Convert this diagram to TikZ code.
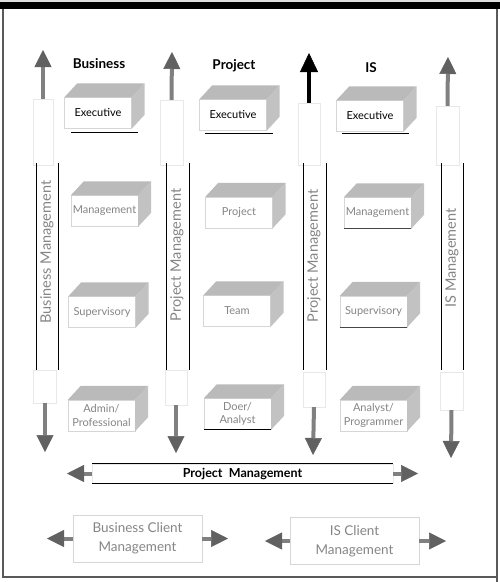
\documentclass[tikz,border=0pt]{standalone}
\usepackage{fontspec}
\setmainfont{Lato}
\usepackage{xcolor}
\usepackage{tikz}
\usetikzlibrary{calc,arrows.meta}
\definecolor{facegray}{gray}{0.73}
\definecolor{sidegray}{gray}{0.76}
\definecolor{rimgray}{gray}{0.84}
\definecolor{palegray}{gray}{0.91}
\definecolor{txtgray}{gray}{0.52}
\definecolor{shaftgray}{gray}{0.5}
\definecolor{headgray}{gray}{0.38}
\definecolor{framegray}{gray}{0.35}

\begin{document}
\begin{tikzpicture}[x=1pt,y=-1pt,
  front/.style={draw=rimgray,fill=white,minimum width=67pt,minimum height=31pt,inner sep=0pt,
    align=center,text=txtgray,font=\fontsize{11}{13.5}\selectfont},
  exec/.style={front,text=black},
  colbox/.style={draw=palegray,fill=white,inner sep=0pt},
  collabel/.style={rotate=90,text=txtgray,font=\fontsize{14.5}{17}\selectfont},
  head/.style={font=\bfseries\fontsize{13.5}{16}\selectfont},
  grayarrow/.style={draw=shaftgray,line width=4pt,
    -{Triangle[width=17pt,length=17pt,line width=0.5pt,color=headgray]}},
  blackarrow/.style={draw=black,line width=4pt,
    -{Triangle[width=18pt,length=19pt,line width=0.5pt,color=black]}},
  clientbox/.style={draw=rimgray,minimum width=129pt,minimum height=47pt,align=center,
    text=txtgray,font=\fontsize{13.5}{19}\selectfont}]
  \useasboundingbox (0,0) rectangle (500,582);
  \fill[gray!25] (0,0) rectangle (500,2);
  \fill[black] (0,2) rectangle (500,9);
  \draw[framegray,line width=1.2pt] (3,9) -- (3,577) -- (497,577);
  \draw[framegray,line width=1.2pt] (497,9) -- (497,582);

  \node[head] (hbus) at (99,64) {Business};
  \node[head] (hproj) at (234,66) {Project};
  \node[head] (his) at (371,68) {IS};

  \node[exec] (bexec) at (98,113) {Executive};
  \node[front] (bmgmt) at (104.5,211) {Management};
  \node[front] (bsup) at (102,312) {Supervisory};
  \node[front] (badmin) at (101.5,415.5) {Admin/\\Professional};
  \node[exec] (pexec) at (233,115) {Executive};
  \node[front] (pproj) at (239,212.5) {Project};
  \node[front] (pteam) at (237,311) {Team};
  \node[front] (pdoer) at (237.5,414) {Doer/\\Analyst};
  \node[exec] (iexec) at (370,116) {Executive};
  \node[front] (imgmt) at (377.5,213) {Management};
  \node[front] (isup) at (373.5,311.5) {Supervisory};
  \node[front] (ianal) at (373.5,415.5) {Analyst/\\Programmer};
  \foreach \b in {bexec,bmgmt,bsup,badmin,pexec,pproj,pteam,pdoer,iexec,imgmt,isup,ianal}{
    \fill[facegray] (\b.north west) -- ++(13,-14) -- ($(\b.north east)+(13,-14)$) -- (\b.north east) -- cycle;
    \fill[sidegray] (\b.north east) -- ++(13,-14) -- ($(\b.south east)+(13,-14)$) -- (\b.south east) -- cycle;
  }
  \draw[line width=0.8pt] ($(bexec.south west)+(7,4)$) -- ($(bexec.south east)+(6,4)$);
  \draw[line width=0.8pt] ($(pexec.south west)+(6,3)$) -- ($(pexec.south east)+(6,3)$);
  \draw[line width=0.8pt] ($(iexec.south west)+(6,2)$) -- ($(iexec.south east)+(5,2)$);
  \draw[line width=1pt,gray!55!black] (imgmt.south west) -- (imgmt.south east);
  \draw[line width=1pt,gray!55!black] (isup.south west) -- (isup.south east);
  \draw[line width=0.8pt] (pdoer.south west) -- (pdoer.south east);

  \node[colbox,minimum width=20pt,minimum height=66pt] (c1top) at (43,132) {};
  \node[colbox,minimum width=23pt,minimum height=33pt] (c1bot) at (45,386.5) {};
  \coordinate (c1up) at (43,50);
  \coordinate (c1down) at (45,452);
  \draw[grayarrow] (c1top.north) -- (c1up);
  \draw[grayarrow] (c1bot.south) -- (c1down);
  \draw[line width=1pt] (36,163) -- (36,370) (58,163) -- (58,370);
  \node[collabel] (c1lab) at (47,252) {Business Management};

  \node[colbox,minimum width=23pt,minimum height=65pt] (c2top) at (171.5,132.5) {};
  \node[colbox,minimum width=22pt,minimum height=35pt] (c2bot) at (176,387.5) {};
  \coordinate (c2up) at (172,52);
  \coordinate (c2down) at (176,453);
  \draw[grayarrow] (c2top.north) -- (c2up);
  \draw[grayarrow] (c2bot.south) -- (c2down);
  \draw[line width=1pt] (166,163) -- (166,370) (189,163) -- (189,370);
  \node[collabel] (c2lab) at (177,255) {Project Management};

  \node[colbox,minimum width=22pt,minimum height=62pt] (c3top) at (309,134) {};
  \node[colbox,minimum width=22pt,minimum height=35pt] (c3bot) at (314,389.5) {};
  \coordinate (c3up) at (309,53);
  \coordinate (c3down) at (313,455);
  \draw[blackarrow] (c3top.north) -- (c3up);
  \draw[grayarrow] (c3bot.south) -- (c3down);
  \draw[line width=1pt] (303,163) -- (303,370) (326,163) -- (326,370);
  \node[collabel] (c3lab) at (314,256) {Project Management};

  \node[colbox,minimum width=23pt,minimum height=59pt] (c4top) at (447.5,135.5) {};
  \node[colbox,minimum width=23pt,minimum height=38pt] (c4bot) at (451.5,391) {};
  \coordinate (c4up) at (448,57);
  \coordinate (c4down) at (451,458);
  \draw[grayarrow] (c4top.north) -- (c4up);
  \draw[grayarrow] (c4bot.south) -- (c4down);
  \draw[line width=1pt] (441,163) -- (441,370) (463,163) -- (463,370);
  \node[collabel] (c4lab) at (452,258) {IS Management};

  \node[draw=palegray,minimum width=301pt,minimum height=19pt,
    font=\bfseries\fontsize{12.5}{15}\selectfont] (pm) at (242.5,473.5) {Project\enspace Management};
  \draw[line width=1pt] (pm.north west) -- (pm.north east) (pm.south west) -- (pm.south east);
  \coordinate (pmleft) at (67,473.5);
  \coordinate (pmright) at (418,473.5);
  \draw[grayarrow] (pm.west) -- (pmleft);
  \draw[grayarrow] (pm.east) -- (pmright);

  \node[clientbox] (bclient) at (137.5,538.5) {Business Client\\Management};
  \node[clientbox] (isclient) at (354.5,541) {IS Client\\Management};
  \coordinate (bcleft) at (47,538.5);
  \coordinate (bcright) at (228,538.5);
  \coordinate (icleft) at (265,541);
  \coordinate (icright) at (446,541);
  \draw[grayarrow] (bclient.west) -- (bcleft);
  \draw[grayarrow] (bclient.east) -- (bcright);
  \draw[grayarrow] (isclient.west) -- (icleft);
  \draw[grayarrow] (isclient.east) -- (icright);
\end{tikzpicture}
\end{document}
